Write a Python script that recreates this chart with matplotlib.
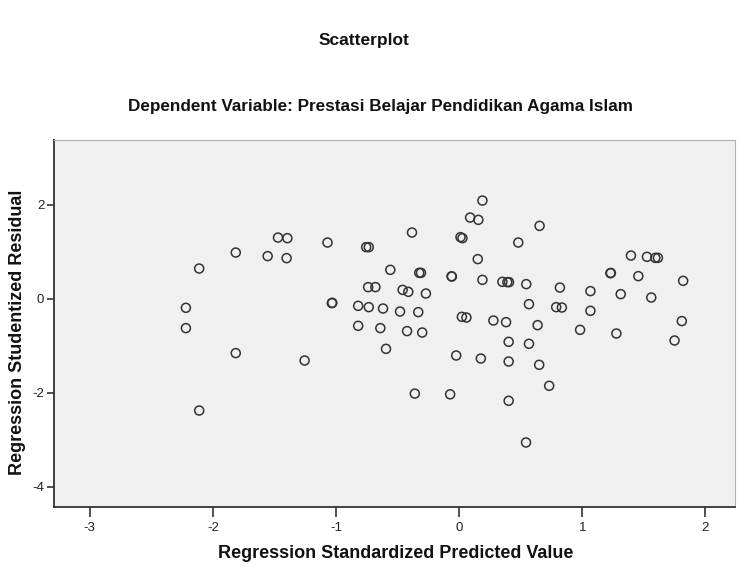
import matplotlib
matplotlib.use("Agg")
import matplotlib.pyplot as plt

# Regression Standardized Predicted Value
pred = [-2.111, -1.814, -1.471, -1.395, -1.555, -1.401, -1.069, -0.755, -0.734, -0.559,
        -0.739, -0.680, -2.219, -2.219, -1.034, -1.030, -0.820, -0.734, -0.618, -0.820,
        -0.640, -0.594, -1.814, -1.255, 0.189, 0.089, 0.156, -0.383, 0.011, 0.027,
        0.653, 0.480, 0.151, -0.324, -0.310, -0.059, -0.062, 0.189, 0.351, 0.391,
        0.405, 0.545, 0.818, -0.459, -0.413, -0.270, -0.480, -0.332, -0.423, -0.300,
        0.022, 0.059, 0.278, 0.381, 0.567, 0.637, 0.788, 0.834, 0.402, 0.567,
        -0.024, 0.176, 0.402, 0.650, 1.395, 1.525, 1.593, 1.614, 1.228, 1.232,
        1.455, 1.819, 1.066, 1.312, 1.560, 1.066, 0.982, 1.277, 1.808, 1.749,
        -2.111, -0.360, -0.073, 0.731, 0.402, 0.543]
# Regression Studentized Residual
resid = [0.645, 0.985, 1.304, 1.291, 0.909, 0.866, 1.198, 1.100, 1.100, 0.617,
         0.249, 0.249, -0.191, -0.623, -0.091, -0.085, -0.149, -0.177, -0.206, -0.574,
         -0.623, -1.064, -1.155, -1.313, 2.091, 1.730, 1.681, 1.411, 1.313, 1.291,
         1.553, 1.198, 0.845, 0.553, 0.553, 0.474, 0.480, 0.404, 0.362, 0.355,
         0.355, 0.313, 0.240, 0.191, 0.149, 0.113, -0.270, -0.283, -0.687, -0.717,
         -0.383, -0.398, -0.462, -0.496, -0.113, -0.560, -0.177, -0.185, -0.915, -0.957,
         -1.206, -1.270, -1.334, -1.404, 0.921, 0.894, 0.872, 0.872, 0.547, 0.550,
         0.483, 0.383, 0.164, 0.100, 0.028, -0.255, -0.660, -0.738, -0.474, -0.887,
         -2.377, -2.017, -2.032, -1.851, -2.170, -3.057]

xticks = [-3, -2, -1, 0, 1, 2]
yticks = [-4, -2, 0, 2]

W, H = 737, 566
fig = plt.figure(figsize=(W / 100, H / 100), dpi=100)
fig.patch.set_facecolor("white")

left, right, top, bottom = 54, 735, 140, 507
ax = fig.add_axes([left / W, 1 - bottom / H, (right - left) / W, (bottom - top) / H])
ax.set_facecolor("#f0f0f0")

ax.scatter(pred, resid, s=42, facecolors="none", edgecolors="#333333", linewidths=1.1, zorder=3)

ax.set_xlim(-3.29, 2.24)
ax.set_ylim(-4.43, 3.38)
ax.set_xticks(xticks)
ax.set_yticks(yticks)
ax.set_xticklabels([str(t) for t in xticks])
ax.set_yticklabels([str(t) for t in yticks])

fam = ["Liberation Sans", "DejaVu Sans"]
ax.tick_params(axis="x", direction="out", length=7, width=1.2, color="#333333",
               labelsize=9.5, labelcolor="#222222", pad=4)
ax.tick_params(axis="y", direction="out", length=5, width=1.2, color="#333333",
               labelsize=9.5, labelcolor="#222222", pad=2)
for lab in ax.get_xticklabels() + ax.get_yticklabels():
    lab.set_family(fam)

for s in ["left", "bottom"]:
    ax.spines[s].set_color("#333333")
    ax.spines[s].set_linewidth(1.3)
for s in ["top", "right"]:
    ax.spines[s].set_color("#b0b0b0")
    ax.spines[s].set_linewidth(0.8)

fig.text(364 / W, 1 - 40 / H, "Scatterplot", ha="center", va="center",
         fontsize=12.5, fontweight="bold", family=fam, color="#111111")
fig.text(381 / W, 1 - 107 / H, "Dependent Variable: Prestasi Belajar Pendidikan Agama Islam",
         ha="center", va="center", fontsize=12.3, fontweight="bold", family=fam, color="#111111")
fig.text(396 / W, 1 - 553 / H, "Regression Standardized Predicted Value",
         ha="center", va="center", fontsize=13, fontweight="bold", family=fam, color="#111111")
fig.text(18 / W, 1 - 332 / H, "Regression Studentized Residual", rotation=90,
         ha="center", va="center", fontsize=13, fontweight="bold", family=fam, color="#111111")

fig.savefig("out.png", dpi=100, facecolor="white")
